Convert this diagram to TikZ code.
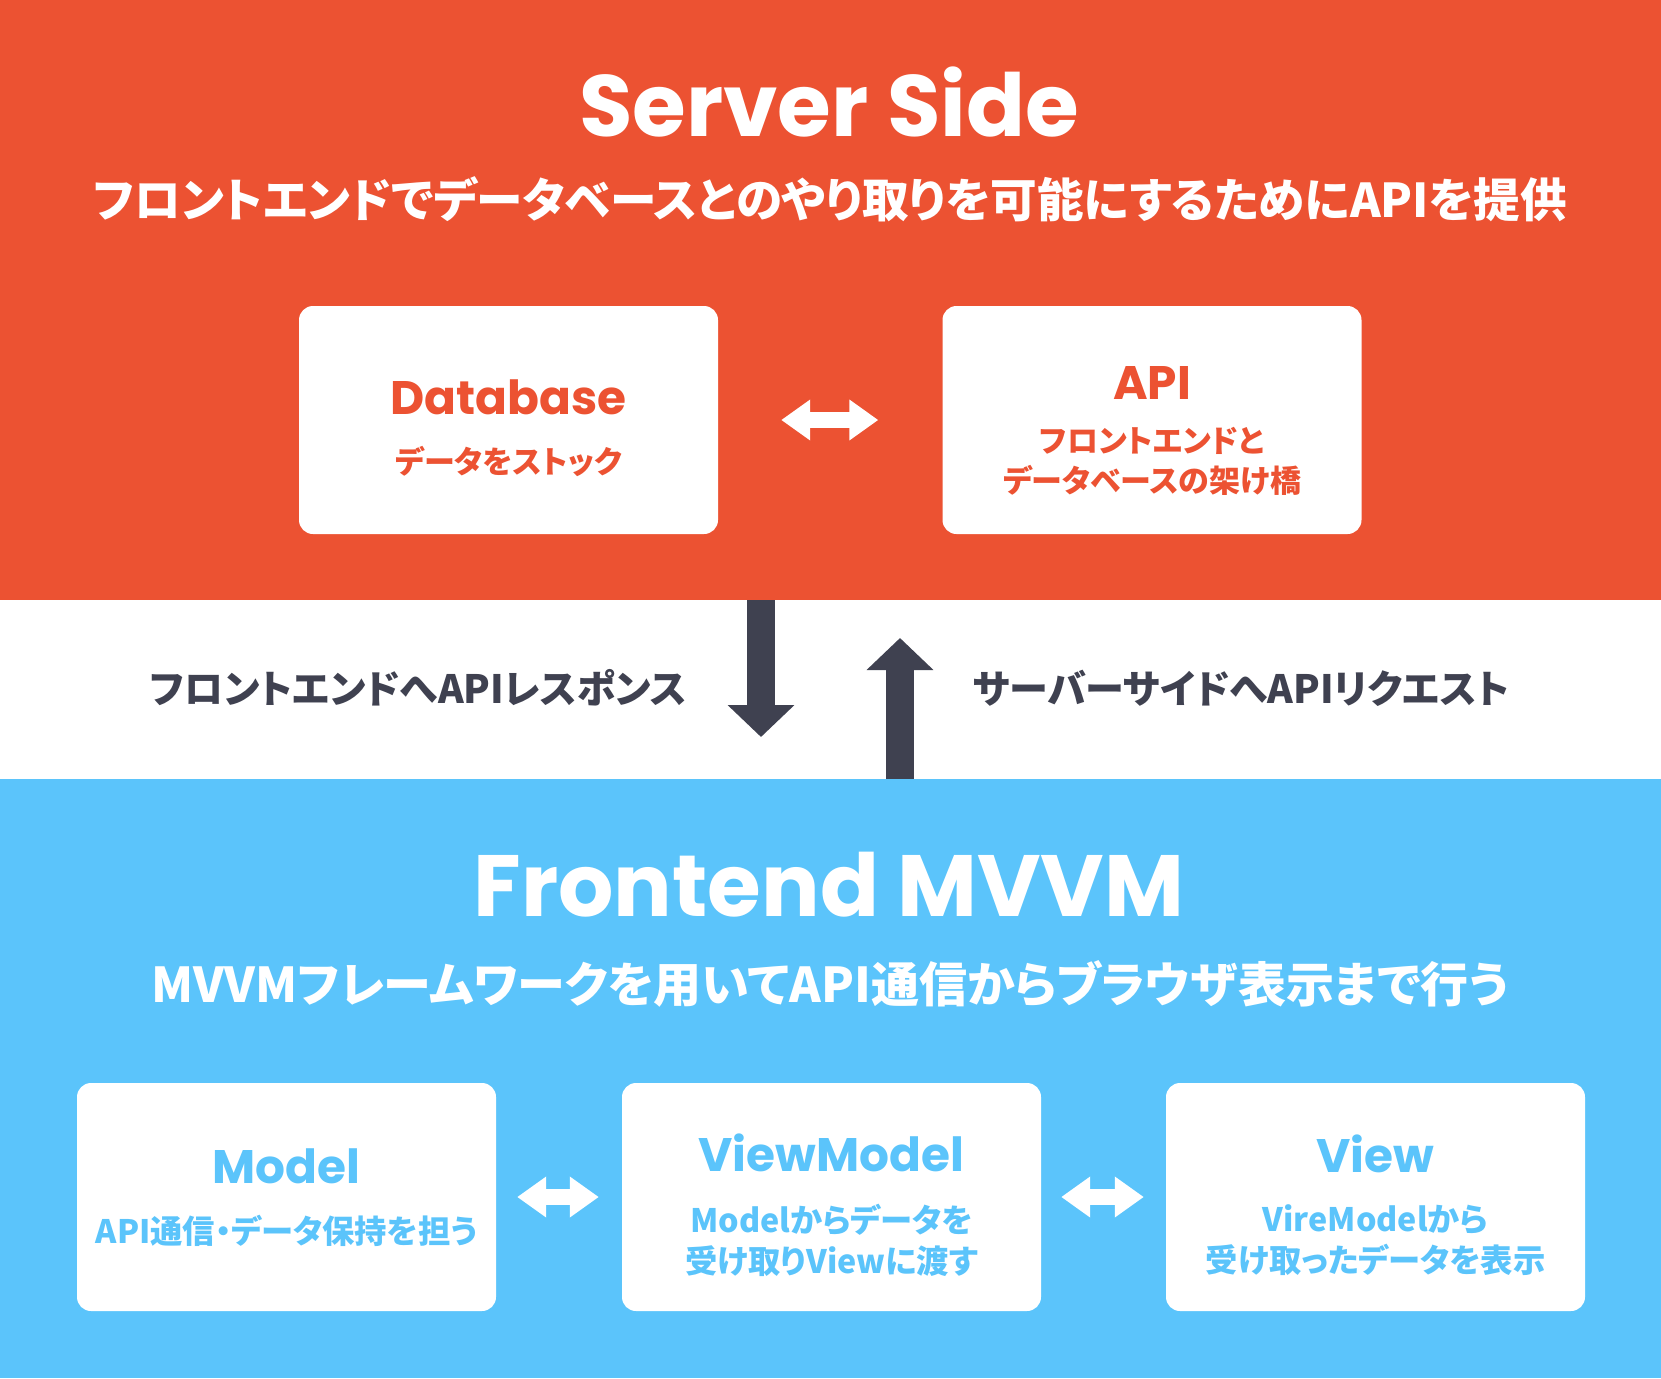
\documentclass[tikz,border=0pt]{standalone}
\usepackage{fontspec}
\newfontfamily\headfont{Poppins}
\newfontfamily\jpfont{Noto Sans CJK JP}[RawFeature=+palt]
\usetikzlibrary{arrows.meta,calc,positioning}
\definecolor{srvred}{HTML}{EC5232}
\definecolor{frontblue}{HTML}{5BC4FB}
\definecolor{darkarrow}{HTML}{3F4150}
\tikzset{
  band/.style={inner sep=0pt, minimum width=1661pt, anchor=north},
  card/.style={fill=white, rounded corners=14pt, minimum width=419pt, minimum height=228pt, inner sep=0pt},
  bigtitle/.style={anchor=base, text=white, font=\headfont\bfseries\fontsize{87}{87}\selectfont},
  bigsub/.style={text=white, font=\jpfont\bfseries\fontsize{48}{48}\selectfont},
  cardtitle/.style={anchor=base, font=\headfont\bfseries\fontsize{47}{47}\selectfont},
  cardtext/.style={align=center, font=\jpfont\bfseries\fontsize{31}{40}\selectfont},
  fronttext/.style={cardtext, text=frontblue, font=\jpfont\bfseries\fontsize{32.3}{41}\selectfont},
  midlabel/.style={text=darkarrow, font=\jpfont\bfseries\fontsize{39}{39}\selectfont},
  swap/.style={draw=white, line width=16pt, {Triangle[length=29pt,width=39pt]}-{Triangle[length=29pt,width=39pt]}},
  flow/.style={draw=darkarrow, line width=28pt, -{Triangle[length=32pt,width=65pt]}},
}
\begin{document}
\begin{tikzpicture}[x=1pt,y=-1pt]
\fill[white] (0,0) rectangle (1661,1378);
\useasboundingbox (0,0) rectangle (1661,1378);

% server side
\node[band, fill=srvred, minimum height=600pt] (server) at (830.5,0) {};
\node[bigtitle] (servertitle) at (829,136) {Server Side};
\node[bigsub, font=\jpfont\bfseries\fontsize{46.6}{46.6}\selectfont] (serversub) at (830,199) {フロントエンドでデータベースとのやり取りを可能にするためにAPIを提供};

\node[card] (db) at (508.5,420) {};
\node[card] (api) at (1152,420) {};
\node[cardtitle, text=srvred] (dbtitle) at (508.5,414) {Database};
\node[cardtext, text=srvred] (dbtext) at (508.5,461) {データをストック};
\node[cardtitle, text=srvred] (apititle) at (1152,399) {API};
\node[cardtext, text=srvred] (apitext) at (1152,461) {フロントエンドと\\データベースの架け橋};
\path[swap, shorten <=63pt, shorten >=64pt] (db) -- (api);

% frontend
\node[band, fill=frontblue, minimum height=599pt] (front) at (830.5,779) {};
\node[bigtitle] (fronttitle) at (829,916) {Frontend MVVM};
\node[bigsub] (frontsub) at (830,984) {MVVMフレームワークを用いてAPI通信からブラウザ表示まで行う};

\node[card] (model) at (286.5,1197) {};
\node[card] (vm) at (831.5,1197) {};
\node[card] (view) at (1375.5,1197) {};
\node[cardtitle, text=frontblue] (modeltitle) at (286.5,1183) {Model};
\node[fronttext] (modeltext) at (286.5,1231) {API通信・データ保持を担う};
\node[cardtitle, text=frontblue] (vmtitle) at (831.5,1171) {ViewModel};
\node[fronttext] (vmtext) at (831.5,1240) {Modelからデータを\\受け取りViewに渡す};
\node[cardtitle, text=frontblue] (viewtitle) at (1375.5,1172) {View};
\node[fronttext] (viewtext) at (1375.5,1240) {VireModelから\\受け取ったデータを表示};
\path[swap, shorten <=21pt, shorten >=23pt] (model) -- (vm);
\path[swap, shorten <=20pt, shorten >=22pt] (vm) -- (view);

% request / response
\coordinate (resptip) at (761,737);
\coordinate (reqtip) at (900,638);
\path[flow] (server.south -| resptip) -- (resptip);
\path[flow] (front.north -| reqtip) -- (reqtip);
\node[midlabel] (resplabel) at (418.5,688) {フロントエンドへAPIレスポンス};
\node[midlabel] (reqlabel) at (1241,688) {サーバーサイドへAPIリクエスト};
\end{tikzpicture}
\end{document}
